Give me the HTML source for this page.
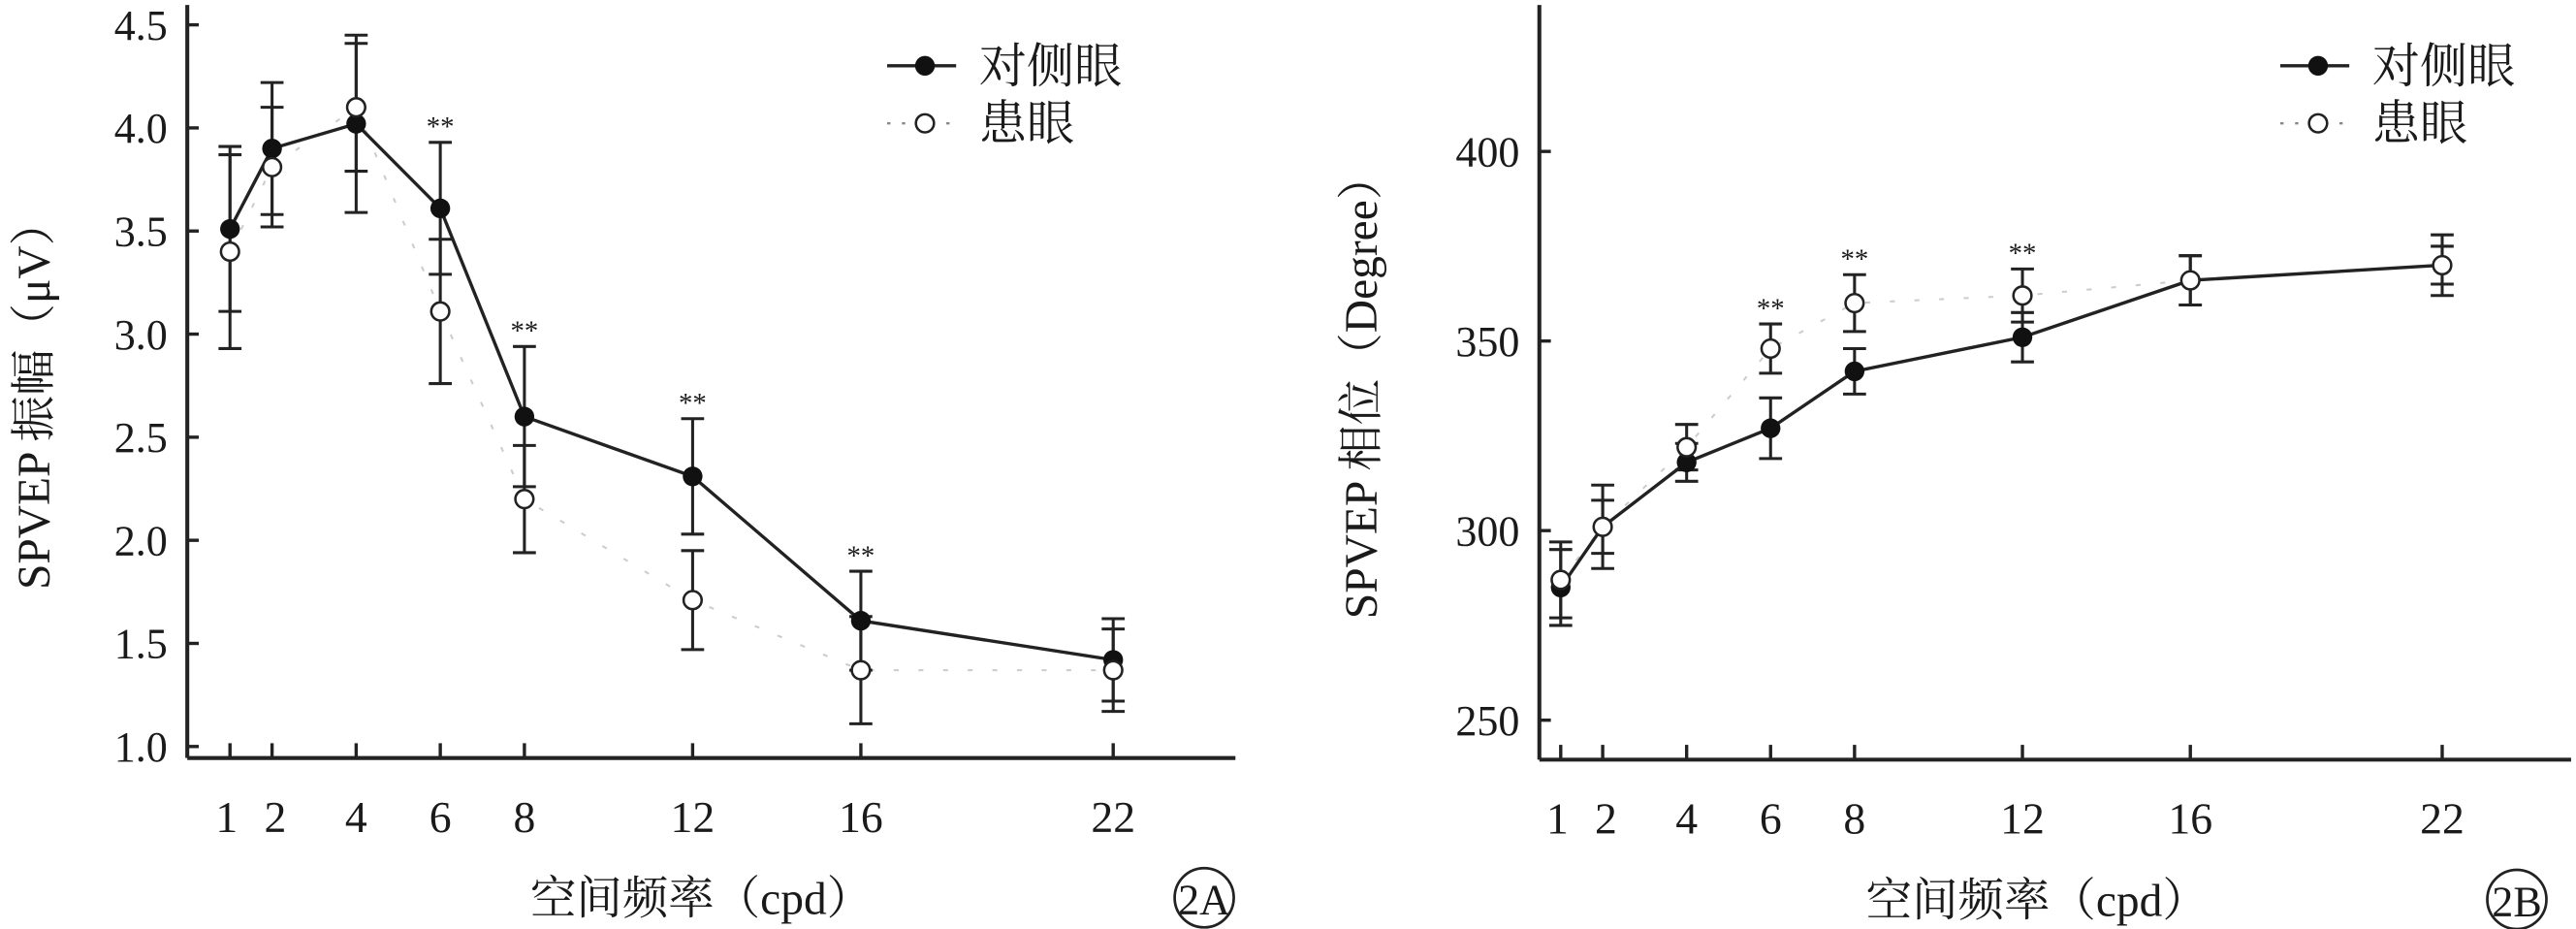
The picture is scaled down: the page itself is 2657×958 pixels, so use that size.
<!DOCTYPE html>
<html><head><meta charset="utf-8"><style>
html,body{margin:0;padding:0;background:#fff;}
svg{display:block;}
text{font-family:"Liberation Serif","Noto Serif CJK SC","Noto Sans CJK SC",serif;fill:#1a1a1a;}
</style></head><body>
<svg id="fig" width="2657" height="958" viewBox="0 0 1568 565" preserveAspectRatio="none" xmlns="http://www.w3.org/2000/svg"></svg>
<script>
const freqs = [1,2,4,6,8,12,16,22];
const ampContra = [3.51,3.90,4.02,3.61,2.60,2.31,1.61,1.42];
const ampContraErr = [0.40,0.32,0.43,0.32,0.34,0.28,0.24,0.20];
const ampAffected = [3.40,3.81,4.10,3.11,2.20,1.71,1.37,1.37];
const ampAffectedErr = [0.47,0.29,0.31,0.35,0.26,0.24,0.26,0.20];
const ampSig = [6,8,12,16];
const ampTicks = [1.0,1.5,2.0,2.5,3.0,3.5,4.0,4.5];
const phaseContra = [285,301,318,327,342,351,366,370];
const phaseContraErr = [10,7,5,8,6,6.5,6.5,5];
const phaseAffected = [287,301,322,348,360,362,366,370];
const phaseAffectedErr = [10,11,6,6.5,7.5,7,6.5,8];
const phaseSig = [6,8,12];
const phaseTicks = [250,300,350,400];
const xTickLabels = ["1","2","4","6","8","12","16","22"];

const svg = document.getElementById('fig');
const NS = 'http://www.w3.org/2000/svg';
function mk(tag, attrs, parent){const e=document.createElementNS(NS,tag);for(const k in attrs)e.setAttribute(k,attrs[k]);(parent||svg).appendChild(e);return e;}

function panel(cfg){
  const g = mk('g',{});
  
  
  const xs = f => cfg.x0 + (f-1)*cfg.xStep;
  const ys = v => cfg.yBase + (v-cfg.vBase)*cfg.yScale;
  const ya = mk('line',{x1:cfg.axX,y1:cfg.axTop,x2:cfg.axX,y2:cfg.axY,stroke:'#222','stroke-width':2.4},g);
   
  const xa = mk('line',{x1:cfg.axX,y1:cfg.axY,x2:cfg.axRight,y2:cfg.axY,stroke:'#222','stroke-width':2.4},g);
   
  cfg.ticks.forEach(t=>{
    const y=ys(t);
    mk('line',{x1:cfg.axX,y1:y,x2:cfg.axX+7,y2:y,stroke:'#222','stroke-width':2},g);
    const tx=mk('text',{x:cfg.axX-12,y:y+9,'text-anchor':'end','font-size':26},g);
    tx.textContent = cfg.fmt(t);
     
  });
  freqs.forEach((f,i)=>{
    const x=xs(f);
    mk('line',{x1:x,y1:cfg.axY,x2:x,y2:cfg.axY-9,stroke:'#222','stroke-width':2},g);
    const tx=mk('text',{x:x+(f===1?-2:f===2?2:0),y:cfg.axY+45,'text-anchor':'middle','font-size':27},g);
    tx.textContent = xTickLabels[i];
     
  });
  const xt=mk('text',{x:cfg.xTitleX,y:cfg.axY+95,'text-anchor':'middle','font-size':28},g);
  xt.textContent='空间频率（cpd）';
   
  const ytl=mk('text',{x:0,y:0,'text-anchor':'middle','font-size':28,transform:`translate(${cfg.yTitleX},${cfg.yTitleY}) rotate(-90)`},g);
  ytl.textContent=cfg.yTitle;
   
  const pc=mk('circle',{cx:cfg.lblX,cy:cfg.axY+85,r:18,fill:'none',stroke:'#222','stroke-width':1.6},g);
   
  const pl=mk('text',{x:cfg.lblX,y:cfg.axY+95,'text-anchor':'middle','font-size':26},g);
  pl.textContent=cfg.lbl;
   
  const pa=mk('polyline',{points:freqs.map((f,i)=>xs(f)+','+ys(cfg.aff[i])).join(' '),fill:'none',stroke:'#ccc','stroke-width':1.2,'stroke-dasharray':'3 12'},g);
   
  function err(vals,errs,nm){
    freqs.forEach((f,i)=>{
      const x=xs(f),y1=ys(vals[i]+errs[i]),y2=ys(vals[i]-errs[i]);
      const e=mk('path',{d:`M${x},${y1}V${y2}M${x-7},${y1}H${x+7}M${x-7},${y2}H${x+7}`,stroke:'#222','stroke-width':1.8,fill:'none'},g);
       
    });
  }
  err(cfg.con,cfg.conE,'contralateral-error-bar');
  err(cfg.aff,cfg.affE,'affected-error-bar');
  const pc2=mk('polyline',{points:freqs.map((f,i)=>xs(f)+','+ys(cfg.con[i])).join(' '),fill:'none',stroke:'#222','stroke-width':2},g);
   
  freqs.forEach((f,i)=>{
    const c=mk('circle',{cx:xs(f),cy:ys(cfg.con[i]),r:6,fill:'#111'},g);
     
  });
  freqs.forEach((f,i)=>{
    const c=mk('circle',{cx:xs(f),cy:ys(cfg.aff[i]),r:5.5,fill:'#fff',stroke:'#222','stroke-width':1.5},g);
     
  });
  cfg.sig.forEach(f=>{
    const i=freqs.indexOf(f);
    const top=Math.min(ys(cfg.con[i]+cfg.conE[i]),ys(cfg.aff[i]+cfg.affE[i]));
    const s=mk('text',{x:xs(f),y:top-4,'text-anchor':'middle','font-size':17},g);
    s.textContent='**';
     
  });
  const lg=mk('g',{},g);
   
  mk('line',{x1:cfg.legX,y1:40,x2:cfg.legX+42,y2:40,stroke:'#222','stroke-width':2},lg);
  mk('circle',{cx:cfg.legX+23,cy:40,r:6,fill:'#111'},lg);
  const l1=mk('text',{x:cfg.legX+56,y:50,'font-size':29},lg); l1.textContent='对侧眼';
   
  mk('line',{x1:cfg.legX,y1:75,x2:cfg.legX+42,y2:75,stroke:'#888','stroke-width':1.4,'stroke-dasharray':'2 7'},lg);
  mk('circle',{cx:cfg.legX+23,cy:75,r:5.5,fill:'#fff',stroke:'#222','stroke-width':1.5},lg);
  const l2=mk('text',{x:cfg.legX+56,y:85,'font-size':29},lg); l2.textContent='患眼';
   
}

panel({name:'amplitude-chart',x0:140,xStep:25.6,axX:114,axTop:3,axY:461,axRight:752,
  vBase:1.0,yBase:454,yScale:-125.4,ticks:ampTicks,fmt:t=>t.toFixed(1),
  con:ampContra,conE:ampContraErr,aff:ampAffected,affE:ampAffectedErr,sig:ampSig,
  yTitle:'SPVEP 振幅（μV）',yTitleX:30,yTitleY:240,xTitleX:427,lbl:'2A',lblX:733,legX:540});
panel({name:'phase-chart',x0:950,xStep:25.55,axX:937,axTop:3,axY:462,axRight:1565,
  vBase:250,yBase:438,yScale:-2.306,ticks:phaseTicks,fmt:t=>String(t),
  con:phaseContra,conE:phaseContraErr,aff:phaseAffected,affE:phaseAffectedErr,sig:phaseSig,
  yTitle:'SPVEP 相位（Degree）',yTitleX:838,yTitleY:235,xTitleX:1240,lbl:'2B',lblX:1532,legX:1388});
</script>
</body></html>
